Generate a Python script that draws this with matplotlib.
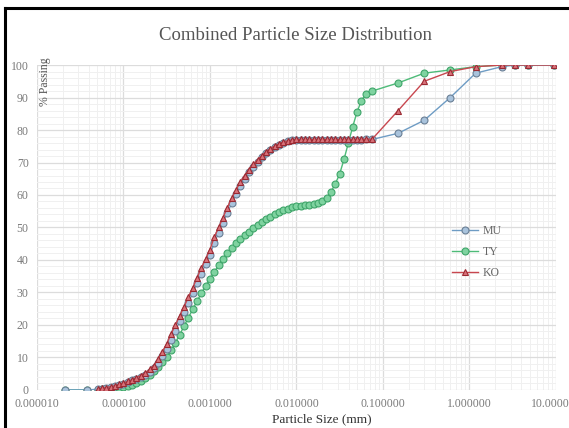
import matplotlib
matplotlib.use('Agg')
import matplotlib.pyplot as plt
from matplotlib.lines import Line2D
from matplotlib.ticker import FixedLocator, NullFormatter, MultipleLocator

plt.rcParams['font.family'] = ['Liberation Serif', 'DejaVu Serif']

# particle sizes (mm): two early points, laser bins, then sieves
lead_sizes = [2.1e-5, 3.8e-5]
laser_sizes = [5.01e-5, 5.62e-5, 6.31e-5, 7.08e-5, 7.94e-5, 8.91e-5,
               1.00e-4, 1.12e-4, 1.26e-4, 1.41e-4, 1.58e-4, 1.78e-4, 2.00e-4, 2.24e-4,
               2.51e-4, 2.82e-4, 3.16e-4, 3.55e-4, 3.98e-4, 4.47e-4, 5.01e-4, 5.62e-4,
               6.31e-4, 7.08e-4, 7.94e-4, 8.91e-4,
               1.00e-3, 1.12e-3, 1.26e-3, 1.41e-3, 1.58e-3, 1.78e-3, 2.00e-3, 2.24e-3,
               2.51e-3, 2.82e-3, 3.16e-3, 3.55e-3, 3.98e-3, 4.47e-3, 5.01e-3, 5.62e-3,
               6.31e-3, 7.08e-3, 7.94e-3, 8.91e-3,
               1.00e-2, 1.12e-2, 1.26e-2, 1.41e-2, 1.58e-2, 1.78e-2, 2.00e-2, 2.24e-2,
               2.51e-2, 2.82e-2, 3.16e-2, 3.55e-2, 3.98e-2, 4.47e-2, 5.01e-2, 5.62e-2,
               6.31e-2, 7.50e-2]
sieve_sizes = [0.15, 0.3, 0.6, 1.18, 2.36, 3.35, 4.75, 9.5]

ko_laser = [0.3, 0.5, 0.7, 1.0, 1.3, 1.7,
            2.1, 2.6, 3.2, 3.8, 4.4, 5.2, 6.3, 7.5,
            9.5, 11.8, 14.2, 17.2, 20.0, 22.8, 25.6, 28.5,
            31.4, 34.5, 37.5, 40.3,
            43.2, 47.0, 50.0, 53.0, 56.0, 59.0, 61.5, 64.0,
            66.0, 67.8, 69.4, 70.8, 72.1, 73.3, 74.3, 75.1,
            75.8, 76.3, 76.7, 77.0,
            77.1, 77.1, 77.1, 77.1, 77.1, 77.1, 77.1, 77.1,
            77.1, 77.1, 77.1, 77.1, 77.1, 77.1, 77.1, 77.1,
            77.2, 77.2]
ko_sieve = [86.0, 95.0, 98.0, 99.5, 100.0, 100.0, 100.0, 100.0]

mu_lead = [0.0, 0.0]
mu_laser = [0.2, 0.4, 0.6, 0.8, 1.1, 1.5,
            1.9, 2.4, 2.9, 3.4, 4.0, 4.7, 5.6, 6.7,
            8.3, 10.3, 12.6, 15.4, 18.2, 21.1, 24.0, 26.9,
            29.8, 32.8, 35.8, 38.7,
            41.6, 45.2, 48.4, 51.4, 54.4, 57.4, 60.2, 62.8,
            65.0, 67.0, 68.7, 70.2, 71.6, 72.8, 73.9, 74.8,
            75.5, 76.1, 76.5, 76.8,
            76.9, 77.0, 77.0, 77.0, 77.0, 77.0, 77.0, 77.0,
            77.0, 77.0, 77.0, 77.0, 77.0, 77.0, 77.0, 77.0,
            77.1, 77.1]
mu_sieve = [79.0, 83.0, 90.0, 97.5, 99.5, 100.0, 100.0, 100.0]

ty_lead = [0.0, 0.0]
ty_laser = [0.1, 0.2, 0.3, 0.4, 0.5, 0.7,
            0.9, 1.2, 1.6, 2.1, 2.8, 3.6, 4.6, 5.8,
            7.0, 8.5, 10.2, 12.2, 14.5, 17.0, 19.6, 22.2,
            24.8, 27.3, 29.7, 32.0,
            34.2, 36.3, 38.3, 40.2, 42.0, 43.6, 45.1, 46.4,
            47.6, 48.7, 49.8, 50.8, 51.7, 52.5, 53.3, 54.0,
            54.7, 55.3, 55.8, 56.2,
            56.5, 56.7, 56.9, 57.0, 57.2, 57.5, 58.0, 59.0,
            61.0, 63.5, 66.5, 71.0, 76.0, 81.0, 85.5, 89.0,
            91.0, 92.0]
ty_sieve = [94.5, 97.5, 98.5, 99.5, 100.0, 100.0, 100.0, 100.0]

x_ticks = [1e-5, 1e-4, 1e-3, 1e-2, 1e-1, 1, 10]
x_labels = ['0.000010', '0.000100', '0.001000', '0.010000', '0.100000', '1.000000', '10.000000']

fig = plt.figure(figsize=(5.69, 4.28), dpi=100)
ax = fig.add_axes([0.065, 0.089, 0.912, 0.759])

mu_x = lead_sizes + laser_sizes + sieve_sizes
ty_x = lead_sizes + laser_sizes + sieve_sizes
ko_x = laser_sizes + sieve_sizes

ty_line, = ax.plot(ty_x, ty_lead + ty_laser + ty_sieve, color='#4dbb78', lw=1.0,
                   marker='o', ms=5, mfc='#7fd3a0', mec='#3fa56a', mew=0.8, zorder=3, label='TY')
mu_line, = ax.plot(mu_x, mu_lead + mu_laser + mu_sieve, color='#6e9cc4', lw=1.0,
                   marker='o', ms=5, mfc='#a9c3dc', mec='#6a7f95', mew=0.8, zorder=4, label='MU')
ko_line, = ax.plot(ko_x, ko_laser + ko_sieve, color='#c8474f', lw=1.0,
                   marker='^', ms=5, mfc='#d9727a', mec='#9b2a33', mew=0.8, zorder=5, label='KO')

ax.set_xscale('log')
ax.set_xlim(1e-5, 10)
ax.set_ylim(0, 100)
ax.xaxis.set_major_locator(FixedLocator(x_ticks))
ax.set_xticklabels(x_labels)
ax.xaxis.set_minor_formatter(NullFormatter())
ax.yaxis.set_major_locator(MultipleLocator(10))
ax.yaxis.set_minor_locator(MultipleLocator(2))

ax.grid(which='major', color='#dcdcdc', lw=0.9)
ax.grid(which='minor', color='#f0f0f0', lw=0.7)
ax.set_axisbelow(True)
for s in ax.spines.values():
    s.set_visible(False)
ax.tick_params(which='both', length=0, labelsize=8.5, colors='#7a7a7a')
ax.tick_params(axis='x', pad=6)
ax.tick_params(axis='y', pad=6)

fig.text(0.52, 0.918, 'Combined Particle Size Distribution', ha='center', va='center',
         fontsize=13.5, color='#555555')
fig.text(0.565, 0.021, 'Particle Size (mm)', ha='center', va='center',
         fontsize=9.5, color='#333333')
fig.text(0.079, 0.808, '% Passing', ha='center', va='center', rotation=90,
         fontsize=8.5, color='#555555')

leg = ax.legend(handles=[mu_line, ty_line, ko_line], loc='upper left',
                bbox_to_anchor=(0.78, 0.54), frameon=False, fontsize=8.5,
                handlelength=2.2, labelspacing=0.75, handletextpad=0.4)
for t in leg.get_texts():
    t.set_color('#666666')

# black frame at the left and top edge of the picture
fig.add_artist(Line2D([5 / 569, 5 / 569], [0, 1 - 8 / 428], color='black', lw=2.2,
                      transform=fig.transFigure))
fig.add_artist(Line2D([5 / 569, 1], [1 - 8 / 428, 1 - 8 / 428], color='black', lw=2.2,
                      transform=fig.transFigure))

fig.savefig('out.png', dpi=100)
